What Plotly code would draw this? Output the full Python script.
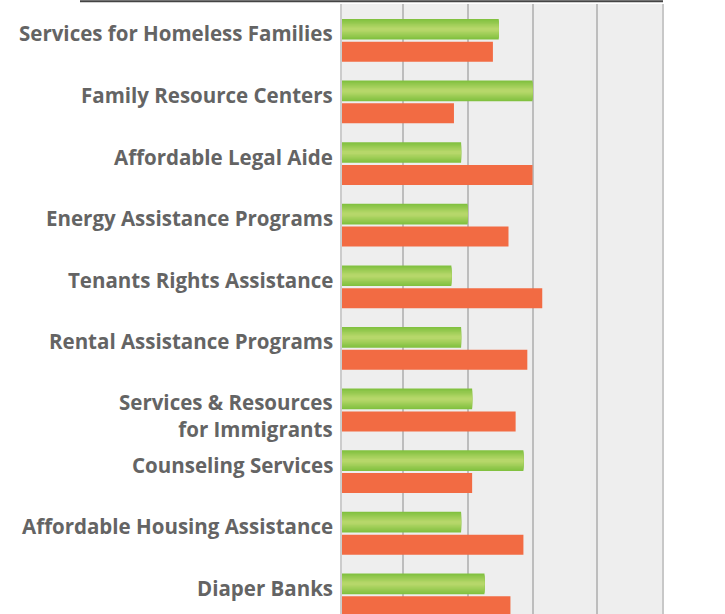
import plotly.graph_objects as go

categories = [
    "Services for Homeless Families",
    "Family Resource Centers",
    "Affordable Legal Aide",
    "Energy Assistance Programs",
    "Tenants Rights Assistance",
    "Rental Assistance Programs",
    "Services & Resources<br>for Immigrants",
    "Counseling Services",
    "Affordable Housing Assistance",
    "Diaper Banks",
]
green_values = [24.8, 30.0, 19.0, 20.0, 17.5, 19.0, 20.7, 28.6, 19.0, 22.6]
orange_values = [23.9, 17.9, 30.0, 26.3, 31.5, 29.2, 27.4, 20.7, 28.6, 26.6]
grid_ticks = [10, 20, 30, 40, 50]

ypos = list(range(len(categories)))

fig = go.Figure()

# green bars with a vertical gradient, built from stacked narrower layers
edge = (130, 193, 64)
mid = (182, 215, 106)
n_layers = 8
g_center = -0.18
g_half = 0.168
for k in range(n_layers):
    t = k / (n_layers - 1)
    c = tuple(int(round(edge[j] + (mid[j] - edge[j]) * t)) for j in range(3))
    half = g_half * (1 - 0.85 * t)
    fig.add_trace(go.Bar(
        y=ypos, x=green_values, orientation="h",
        base=0,
        width=2 * half, offset=g_center - half,
        marker=dict(color="rgb(%d,%d,%d)" % c, line=dict(width=0)),
        showlegend=False, hoverinfo="skip",
    ))

fig.add_trace(go.Bar(
    y=ypos, x=orange_values, orientation="h",
    base=0, width=0.325, offset=0.022,
    marker=dict(color="#f26b43", line=dict(width=0)),
    showlegend=False, hoverinfo="skip",
))

annotations = []
for i, lab in enumerate(categories):
    annotations.append(dict(
        x=0, xref="paper", xanchor="right", xshift=-6,
        y=i, yref="y", yanchor="middle",
        yshift=(-5 if "<br>" in lab else 7),
        text=lab, showarrow=False, align="right",
        font=dict(family="Open Sans", size=20.5, color="#646464", weight="bold"),
    ))

fig.update_layout(
    width=725, height=614,
    margin=dict(l=341, r=62, t=4, b=0, autoexpand=False),
    paper_bgcolor="white",
    plot_bgcolor="#eeeeee",
    barmode="overlay",
    annotations=annotations,
    shapes=[
        dict(type="line", xref="paper", yref="paper",
             x0=(80 - 341) / 322, x1=1.0, y0=1.0045, y1=1.0045,
             line=dict(color="#444444", width=2)),
        dict(type="line", xref="paper", yref="paper",
             x0=0, x1=0, y0=0, y1=1,
             line=dict(color="#cccccc", width=2)),
        dict(type="line", xref="paper", yref="paper",
             x0=1, x1=1, y0=0, y1=1,
             line=dict(color="#c8c8c8", width=2)),
    ],
)
fig.update_xaxes(
    range=[0.5, 50.1], tickvals=grid_ticks, showticklabels=False,
    showgrid=True, gridcolor="#bdbdbd", gridwidth=2, zeroline=False,
    showline=False, fixedrange=True,
)
fig.update_yaxes(
    range=[9.31, -0.59], showticklabels=False, showgrid=False,
    zeroline=False, showline=False, fixedrange=True,
)

fig.write_html("out.html", config={"displayModeBar": False},
               post_script="document.body.style.margin='0';")
